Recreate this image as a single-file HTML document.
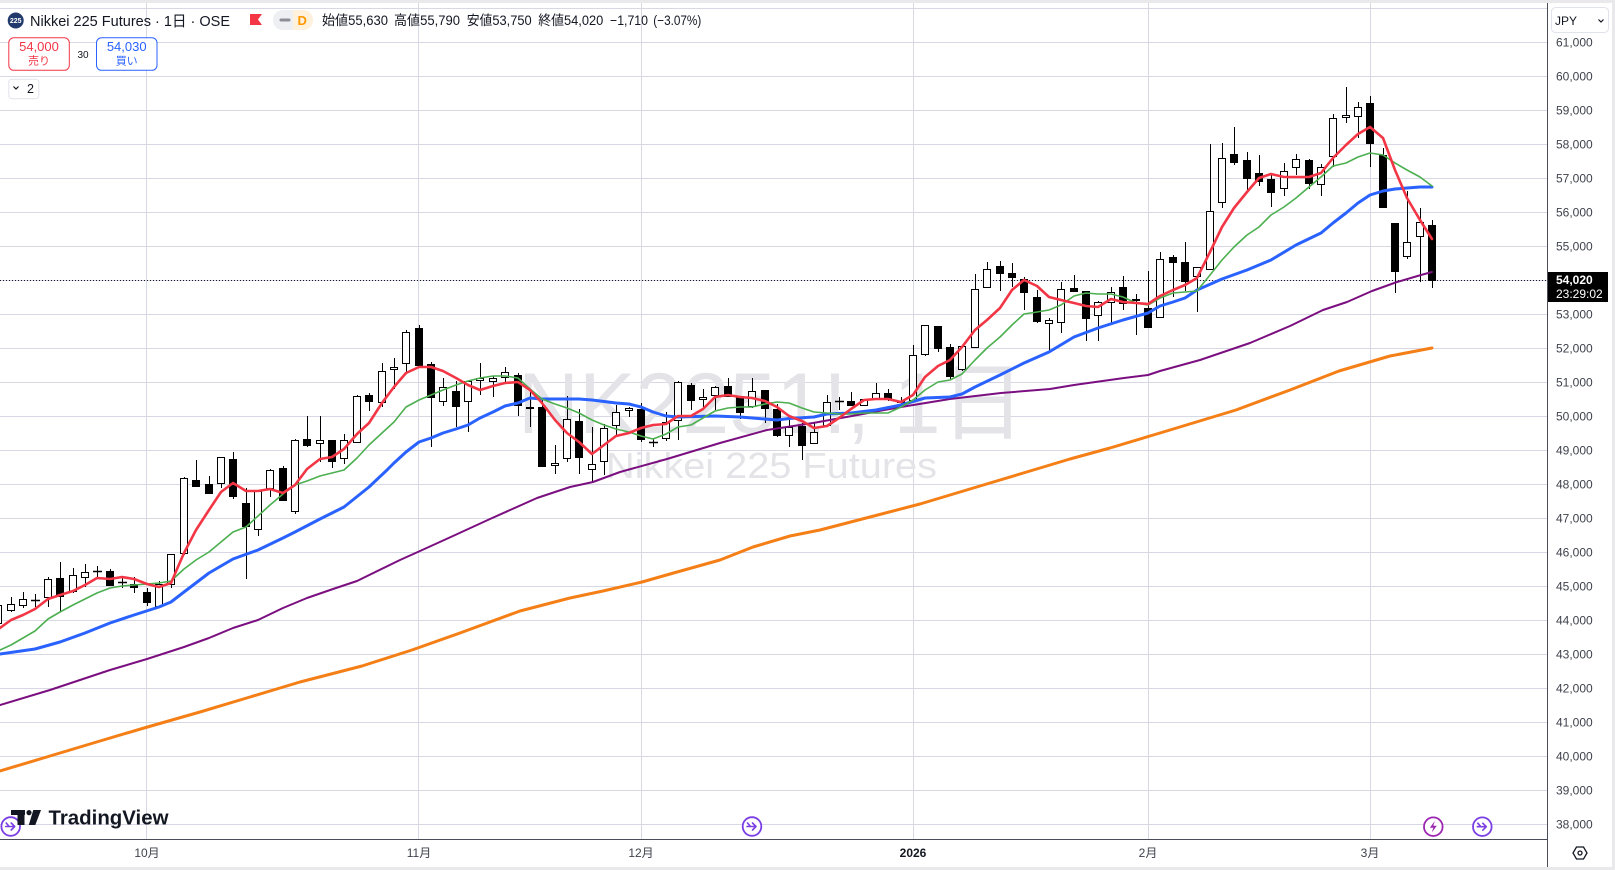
<!DOCTYPE html>
<html><head><meta charset="utf-8"><style>
html,body{margin:0;padding:0;background:#ebebee;width:1615px;height:870px;overflow:hidden}
svg{display:block}
text{font-family:"Liberation Sans","Noto Sans CJK JP",sans-serif}
</style></head><body>
<svg width="1615" height="870" viewBox="0 0 1615 870" xmlns="http://www.w3.org/2000/svg">
<rect x="0" y="0" width="1615" height="870" fill="#e9e9ec"/>
<rect x="0" y="3" width="1612" height="864" fill="#ffffff"/>
<!-- grid -->
<g stroke="#d8d8e4" stroke-width="1" fill="none">
<path d="M0 8.5H1547M0 42.5H1547M0 76.5H1547M0 110.5H1547M0 144.5H1547M0 178.5H1547M0 212.5H1547M0 246.5H1547M0 280.5H1547M0 314.5H1547M0 348.5H1547M0 382.5H1547M0 416.5H1547M0 450.5H1547M0 484.5H1547M0 518.5H1547M0 552.5H1547M0 586.5H1547M0 620.5H1547M0 654.5H1547M0 688.5H1547M0 722.5H1547M0 756.5H1547M0 790.5H1547M0 824.5H1547"/>
<path d="M146.5 3V839M418.5 3V839M641.5 3V839M913.5 3V839M1148.5 3V839M1370.5 3V839"/>
</g>
<!-- watermark -->
<text x="518" y="433" font-size="86" fill="#e4e4e8" textLength="507" lengthAdjust="spacingAndGlyphs">NK2251!, 1日</text>
<text x="606" y="478" font-size="36" fill="#e4e4e8" textLength="331" lengthAdjust="spacingAndGlyphs">Nikkei 225 Futures</text>
<!-- price line -->
<path d="M0 280.5H1547" stroke="#131722" stroke-width="1" stroke-dasharray="1 2"/>
<!-- wicks -->
<path fill="none" stroke="#000" stroke-width="1" d="M-1.5 603V626M11.5 597V612M23.5 592V608M35.5 594V607M48.5 577V607M60.5 562V612M73.5 568V593M85.5 564V587M97.5 566V577M110.5 569V586M122.5 578V588M134.5 577V593M147.5 588V606M159.5 581V608M171.5 554V588M184.5 477V555M196.5 460V487M209.5 476V494M221.5 457V488M233.5 452V499M246.5 488V579M258.5 490V536M270.5 469V497M283.5 466V501M295.5 439V514M307.5 416V447M320.5 416V462M332.5 440V468M344.5 434V464M357.5 395V443M369.5 393V411M382.5 363V407M394.5 358V389M406.5 330V372M419.5 325V366M431.5 362V447M443.5 378V406M456.5 381V427M468.5 381V432M480.5 363V395M493.5 376V397M505.5 367V382M518.5 373V416M530.5 390V427M542.5 399V467M555.5 445V474M567.5 396V462M579.5 409V474M592.5 427V482M604.5 424V475M616.5 405V437M629.5 407V417M641.5 403V442M653.5 438V447M666.5 412V441M678.5 381V440M691.5 383V410M703.5 389V409M715.5 386V410M728.5 378V397M740.5 396V419M752.5 378V408M765.5 390V423M777.5 404V437M789.5 420V447M802.5 423V460M814.5 422V444M827.5 395V426M839.5 397V410M851.5 392V406M864.5 399V406M876.5 383V399M888.5 389V401M901.5 397V407M913.5 345V401M925.5 325V356M938.5 326V352M950.5 344V379M962.5 346V371M975.5 274V348M987.5 262V288M1000.5 261V291M1012.5 263V287M1024.5 277V310M1037.5 290V323M1049.5 318V352M1061.5 282V333M1074.5 275V292M1086.5 291V341M1098.5 301V341M1111.5 287V323M1123.5 276V310M1136.5 294V335M1148.5 271V328M1160.5 252V318M1173.5 255V297M1185.5 242V291M1197.5 267V312M1210.5 144V270M1222.5 143V208M1234.5 127V165M1247.5 152V193M1259.5 155V186M1271.5 175V207M1284.5 163V196M1296.5 154V175M1309.5 159V189M1321.5 164V196M1333.5 114V167M1346.5 87V123M1358.5 102V138M1370.5 96V167M1383.5 148V208M1395.5 223V293M1407.5 191V259M1420.5 208V282M1432.5 220V288"/>
<!-- white bodies -->
<path fill="#fff" stroke="#000" stroke-width="1" d="M-5.5 605.5h7v18h-7zM7.5 604.5h7v6h-7zM19.5 599.5h7v6h-7zM44.5 579.5h7v18h-7zM69.5 575.5h7v16h-7zM81.5 572.5h7v5h-7zM155.5 584.5h7v22h-7zM167.5 554.5h7v30h-7zM180.5 478.5h7v75h-7zM217.5 457.5h7v26h-7zM254.5 491.5h7v38h-7zM266.5 470.5h7v18h-7zM291.5 440.5h7v71h-7zM316.5 440.5h7v3h-7zM340.5 440.5h7v18h-7zM353.5 396.5h7v46h-7zM378.5 371.5h7v31h-7zM390.5 367.5h7v2h-7zM402.5 332.5h7v31h-7zM439.5 387.5h7v14h-7zM464.5 381.5h7v20h-7zM476.5 378.5h7v2h-7zM489.5 378.5h7v3h-7zM501.5 372.5h7v5h-7zM526.5 407.5h7v1h-7zM551.5 463.5h7v2h-7zM563.5 419.5h7v39h-7zM588.5 464.5h7v5h-7zM600.5 428.5h7v33h-7zM612.5 412.5h7v13h-7zM625.5 408.5h7v2h-7zM662.5 422.5h7v16h-7zM674.5 382.5h7v38h-7zM699.5 397.5h7v2h-7zM711.5 387.5h7v8h-7zM748.5 391.5h7v15h-7zM785.5 427.5h7v8h-7zM810.5 432.5h7v11h-7zM823.5 402.5h7v23h-7zM860.5 399.5h7v6h-7zM872.5 393.5h7v5h-7zM909.5 355.5h7v45h-7zM921.5 325.5h7v29h-7zM958.5 346.5h7v23h-7zM971.5 289.5h7v58h-7zM983.5 269.5h7v18h-7zM1045.5 320.5h7v3h-7zM1057.5 289.5h7v33h-7zM1094.5 302.5h7v13h-7zM1107.5 292.5h7v10h-7zM1156.5 259.5h7v58h-7zM1193.5 267.5h7v9h-7zM1206.5 211.5h7v58h-7zM1218.5 158.5h7v44h-7zM1280.5 171.5h7v17h-7zM1292.5 159.5h7v8h-7zM1317.5 167.5h7v17h-7zM1329.5 118.5h7v38h-7zM1342.5 115.5h7v2h-7zM1354.5 107.5h7v9h-7zM1403.5 242.5h7v14h-7zM1416.5 222.5h7v14h-7z"/>
<!-- black bodies -->
<path fill="#000" stroke="#000" stroke-width="1" d="M56.5 578.5h7v18h-7zM106.5 571.5h7v14h-7zM130.5 584.5h7v3h-7zM143.5 592.5h7v10h-7zM192.5 480.5h7v6h-7zM205.5 484.5h7v9h-7zM229.5 459.5h7v37h-7zM242.5 503.5h7v23h-7zM279.5 468.5h7v32h-7zM303.5 439.5h7v6h-7zM328.5 440.5h7v21h-7zM365.5 395.5h7v6h-7zM415.5 328.5h7v37h-7zM427.5 364.5h7v33h-7zM452.5 391.5h7v15h-7zM514.5 375.5h7v30h-7zM538.5 407.5h7v59h-7zM575.5 421.5h7v36h-7zM637.5 409.5h7v30h-7zM687.5 385.5h7v15h-7zM724.5 386.5h7v10h-7zM736.5 396.5h7v16h-7zM761.5 390.5h7v18h-7zM773.5 409.5h7v26h-7zM798.5 426.5h7v19h-7zM847.5 401.5h7v4h-7zM884.5 393.5h7v6h-7zM897.5 401.5h7v1h-7zM934.5 326.5h7v22h-7zM946.5 347.5h7v29h-7zM996.5 266.5h7v7h-7zM1008.5 273.5h7v4h-7zM1020.5 279.5h7v13h-7zM1033.5 297.5h7v24h-7zM1070.5 288.5h7v3h-7zM1082.5 291.5h7v27h-7zM1119.5 287.5h7v16h-7zM1132.5 299.5h7v1h-7zM1144.5 308.5h7v19h-7zM1169.5 257.5h7v5h-7zM1181.5 262.5h7v19h-7zM1230.5 154.5h7v8h-7zM1243.5 160.5h7v18h-7zM1255.5 173.5h7v8h-7zM1267.5 179.5h7v13h-7zM1305.5 160.5h7v23h-7zM1366.5 103.5h7v40h-7zM1379.5 155.5h7v52h-7zM1391.5 223.5h7v48h-7zM1428.5 225.5h7v55h-7z"/>
<!-- doji -->
<path fill="none" stroke="#000" stroke-width="1.5" d="M31 600.5h9M93 571.5h9M118 582.5h9M649 442.5h9M835 401.5h9"/>
<!-- moving averages -->
<g fill="none" stroke-linejoin="round" stroke-linecap="round">
<polyline stroke="#f57f17" stroke-width="3" points="0,771 50,756 100,741 144,728 200,712 250,697 300,682 362,666 412,650 460,633 520,611 570,598 603,591 642,582 670,574 720,560 753,547 790,536 820,530 870,517 920,504 980,486 1030,471 1070,459 1110,448 1160,433 1236,410 1290,390 1339,371 1390,356 1432,348"/>
<polyline stroke="#7b0f80" stroke-width="2" points="0,705 50,690 110,670 147,659 184,647 209,638 233,628 258,620 283,608 307,598 333,589 357,581 400,560 420,551 453,536 490,519 537,498 570,487 593,482 620,472 667,459 720,443 767,430 813,423 852,416 901,407 950,399 1001,393 1050,389 1074,385 1124,378 1148,375 1160,371 1200,360 1250,343 1290,326 1323,310 1347,302 1372,291 1397,282 1421,275 1432,272"/>
<polyline stroke="#2962ff" stroke-width="3" points="0,654 35,649 60,642 85,633 110,623 134,615 159,607 171,602 184,592 209,573 233,559 258,550 283,538 295,532 320,519 344,507 369,487 387,470 394,463 406,452 419,442 431,438 443,433 456,429 468,425 480,418 493,412 505,406 518,403 530,398 542,399 555,399 579,399 592,400 616,403 629,404 641,407 653,412 666,416 678,417 715,416 740,417 765,419 777,420 789,418.5 814,417 827,414 851,413 876,410 901,405 925,398 950,397 962,394 975,387 1000,375 1024,363 1049,352 1074,337 1098,328 1123,320 1148,313 1160,306 1173,302 1185,298 1197,290 1222,279 1247,270 1271,260 1296,245 1321,233 1333,223 1346,213 1358,203 1370,195 1383,191 1395,189 1407,188 1420,187 1432,187"/>
<polyline stroke="#4caf50" stroke-width="1.6" points="0,650 11,645 23,638 35,631 48,619 60,612 73,605 85,599 97,593 110,588 122,586 134,585 147,584 159,583 171,581 184,569 196,560 209,552 221,542 233,532 246,527 258,516 270,505 283,494 295,485 307,481 320,476 332,473 344,470 357,458 369,445 382,433 394,422 406,407 419,400 431,395 443,390 456,385 468,381 480,378 493,376 505,376 518,378 530,389 542,399 555,404 567,408 579,413 592,420 604,425 616,429 629,432 641,436 653,439 666,434 678,427 691,425 703,418 715,411 728,408 740,407 752,407 765,404 777,402 789,403 802,408 814,412 827,413 839,414 851,414 864,413 876,413 888,413 901,407 913,400 925,390 938,382 950,380 962,374 975,360 987,348 1000,337 1012,325 1024,314 1037,312 1049,310 1061,305 1074,296 1086,293 1098,294 1111,294 1123,297 1136,303 1148,305 1160,298 1173,293 1197,291 1210,275 1222,260 1234,247 1247,235 1259,227 1271,215 1284,207 1296,198 1309,187 1321,177 1333,166 1346,163 1358,157 1370,153 1383,155 1395,163 1407,170 1420,177 1432,186"/>
<polyline stroke="#f23645" stroke-width="2.6" points="0,628 11,620 23,615 35,609 48,599 60,595 73,591 85,585 97,578 110,579 122,577 134,579 147,584 159,587 171,583 184,553 196,530 209,510 221,492 233,483 246,491 258,491 270,489 283,493 295,485 307,469 320,459 332,457 344,449 357,434 369,423 382,403 394,387 406,373 419,367 431,367 443,371 456,378 468,385 480,390 493,386 505,383 518,382 530,390 542,403 555,420 567,433 579,442 592,454 604,445 616,436 629,433 641,428 653,425 666,424 678,416 691,416 703,409 715,397 728,395 740,397 752,398 765,401 777,407 789,416 802,421 814,428 827,426 839,418 851,409 864,400 876,399 888,399 901,402 913,395 925,377 938,366 950,360 962,347 975,330 987,320 1000,308 1012,290 1024,280 1037,286 1049,297 1061,300 1074,303 1086,306 1098,307 1111,299 1123,302 1136,303 1148,304 1160,296 1173,290 1185,285 1197,278 1210,252 1222,227 1234,208 1247,192 1259,178 1271,174 1284,177 1296,177 1309,177 1321,173 1333,158 1346,145 1358,134 1370,127 1383,138 1395,170 1407,198 1420,220 1432,239"/>
</g>
<!-- axes -->
<rect x="1548" y="3" width="64" height="864" fill="#fff"/>
<rect x="0" y="840" width="1548" height="27" fill="#fff"/>
<path d="M1547.5 3V867M0 839.5H1547" stroke="#4a4d57" stroke-width="1" fill="none"/>
<g font-size="12" fill="#3f424c">
<text x="1556" y="46.5">61,000</text><text x="1556" y="80.5">60,000</text><text x="1556" y="114.5">59,000</text><text x="1556" y="148.5">58,000</text><text x="1556" y="182.5">57,000</text><text x="1556" y="216.5">56,000</text><text x="1556" y="250.5">55,000</text><text x="1556" y="318.5">53,000</text><text x="1556" y="352.5">52,000</text><text x="1556" y="386.5">51,000</text><text x="1556" y="420.5">50,000</text><text x="1556" y="454.5">49,000</text><text x="1556" y="488.5">48,000</text><text x="1556" y="522.5">47,000</text><text x="1556" y="556.5">46,000</text><text x="1556" y="590.5">45,000</text><text x="1556" y="624.5">44,000</text><text x="1556" y="658.5">43,000</text><text x="1556" y="692.5">42,000</text><text x="1556" y="726.5">41,000</text><text x="1556" y="760.5">40,000</text><text x="1556" y="794.5">39,000</text><text x="1556" y="828.5">38,000</text>
</g>
<g font-size="12" fill="#3f424c" text-anchor="middle">
<text x="147" y="857">10月</text><text x="419" y="857">11月</text><text x="641" y="857">12月</text><text x="913" y="857" font-weight="bold" fill="#131722">2026</text><text x="1148" y="857">2月</text><text x="1370" y="857">3月</text>
</g>
<!-- price label -->
<rect x="1548" y="272" width="60" height="30" fill="#000"/>
<text x="1556" y="284" font-size="12" font-weight="bold" fill="#fff">54,020</text>
<text x="1556" y="298" font-size="12" fill="#fff">23:29:02</text>
<!-- JPY -->
<rect x="1551.5" y="7.5" width="57" height="25" rx="4" fill="#fff" stroke="#e0e3eb"/>
<text x="1555" y="25" font-size="12" fill="#131722">JPY</text>
<path d="M1598.5 19.5l2.5 2.5l2.5-2.5" stroke="#131722" stroke-width="1.2" fill="none"/>
<!-- settings -->
<path d="M1573 853L1576.5 847H1583.5L1587 853L1583.5 859H1576.5Z" fill="none" stroke="#131722" stroke-width="1.3"/>
<circle cx="1580" cy="853" r="2" fill="none" stroke="#131722" stroke-width="1.3"/>
<!-- bottom icons -->
<g fill="#fff" stroke-width="1.8">
<circle cx="10.7" cy="826.5" r="9.3" stroke="#7b3fe4"/>
<circle cx="752" cy="826.5" r="9.3" stroke="#7b3fe4"/>
<circle cx="1433.3" cy="826.7" r="9.3" stroke="#9c27b0"/>
<circle cx="1482.3" cy="826.7" r="9.3" stroke="#7b3fe4"/>
</g>
<g fill="none" stroke="#7b3fe4" stroke-width="1.6" stroke-linecap="round" stroke-linejoin="round">
<path d="M5.7 826.5h9M11.2 823l3.5 3.5l-3.5 3.5M6.2 823l3 3.5"/>
<path d="M747 826.5h9M752.5 823l3.5 3.5l-3.5 3.5M747.5 823l3 3.5"/>
<path d="M1477.3 826.7h9M1482.8 823.2l3.5 3.5l-3.5 3.5M1477.8 823.2l3 3.5"/>
</g>
<path d="M1434.8 821L1429.8 827.7H1433.3L1431.8 832.5L1436.8 825.7H1433.3Z" fill="#9c27b0"/>
<!-- TradingView logo -->
<g fill="#131722">
<rect x="11" y="810" width="14" height="5"/>
<rect x="17.5" y="810" width="7" height="15"/>
<circle cx="29" cy="812.6" r="2.6"/>
<path d="M33.3 810H41L35.3 825H28.8Z"/>
</g>
<text x="48.5" y="824.5" font-size="20" font-weight="bold" fill="#131722" textLength="120" lengthAdjust="spacingAndGlyphs">TradingView</text>
<!-- legend -->
<circle cx="15.7" cy="20.5" r="8" fill="#223a6b"/>
<text x="15.7" y="23" font-size="7" font-weight="bold" fill="#fff" text-anchor="middle">225</text>
<text x="30" y="26" font-size="15" fill="#131722" textLength="200" lengthAdjust="spacingAndGlyphs">Nikkei 225 Futures · 1日 · OSE</text>
<path d="M250 14H262L258 19.5L262 25H250Z" fill="#f23645"/>
<rect x="273" y="10" width="40" height="20" rx="10" fill="#eeeff2"/>
<path d="M293 10H303A10 10 0 0 1 303 30H293Z" fill="#fff1dc"/>
<path d="M281 20H289" stroke="#8b8e97" stroke-width="3" stroke-linecap="round"/>
<text x="297.5" y="25" font-size="13" font-weight="bold" fill="#ff9800">D</text>
<g font-size="13.5" fill="#131722">
<text x="322" y="25" textLength="66" lengthAdjust="spacingAndGlyphs">始値55,630</text>
<text x="394" y="25" textLength="66" lengthAdjust="spacingAndGlyphs">高値55,790</text>
<text x="466.7" y="25" textLength="65" lengthAdjust="spacingAndGlyphs">安値53,750</text>
<text x="538.3" y="25" textLength="65" lengthAdjust="spacingAndGlyphs">終値54,020</text>
<text x="610" y="25" textLength="38" lengthAdjust="spacingAndGlyphs">−1,710</text>
<text x="653.3" y="25" textLength="48" lengthAdjust="spacingAndGlyphs">(−3.07%)</text>
</g>
<!-- sell/buy -->
<rect x="8.8" y="37.8" width="60.5" height="32.5" rx="5" fill="#fff" stroke="#f23645"/>
<text x="39" y="51" font-size="13" fill="#f23645" text-anchor="middle">54,000</text>
<text x="39" y="64.5" font-size="11" fill="#f23645" text-anchor="middle">売り</text>
<text x="83" y="58" font-size="10" fill="#131722" text-anchor="middle">30</text>
<rect x="96.5" y="37.8" width="60.5" height="32.5" rx="5" fill="#fff" stroke="#2962ff"/>
<text x="126.7" y="51" font-size="13" fill="#2962ff" text-anchor="middle">54,030</text>
<text x="126.7" y="64.5" font-size="11" fill="#2962ff" text-anchor="middle">買い</text>
<rect x="8.8" y="79.2" width="30" height="19.5" rx="3" fill="#fff" stroke="#e0e3eb"/>
<path d="M13.5 86.5l2.5 2.5l2.5-2.5" stroke="#131722" stroke-width="1.2" fill="none"/>
<text x="27" y="93" font-size="12.5" fill="#131722">2</text>
</svg>
</body></html>
